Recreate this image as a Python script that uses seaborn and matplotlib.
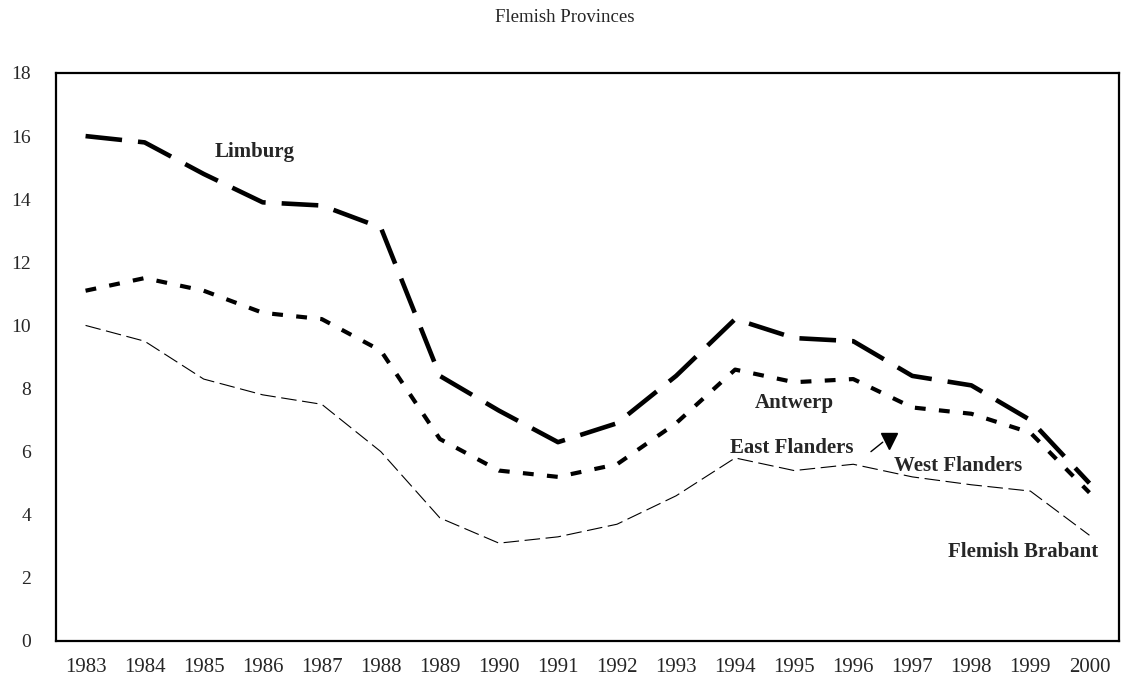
import pandas as pd
import matplotlib
matplotlib.use('Agg')
import matplotlib.pyplot as plt
import seaborn as sns
from matplotlib.ticker import MultipleLocator

# Werkloosheid per provincie (aflezing van de grafiek)
jaren = list(range(1983, 2001))
waarden = {
    'Limburg': [16.0, 15.8, 14.8, 13.9, 13.8, 13.1, 8.4, 7.3, 6.3, 6.9, 8.4, 10.2,
                9.6, 9.5, 8.4, 8.1, 7.0, 5.0],
    'Antwerp': [11.1, 11.5, 11.1, 10.4, 10.2, 9.2, 6.4, 5.4, 5.2, 5.6, 6.9, 8.6,
                8.2, 8.3, 7.4, 7.2, 6.6, 4.7],
    'Flemish Brabant': [10.0, 9.5, 8.3, 7.8, 7.5, 6.0, 3.9, 3.1, 3.3, 3.7, 4.6, 5.8,
                        5.4, 5.6, 5.2, 4.95, 4.75, 3.35],
}
df = pd.DataFrame(waarden, index=jaren).reset_index(names='Jaar')
df = df.melt(id_vars='Jaar', var_name='Provincie', value_name='Waarde')

sns.set_style('white')
plt.rcParams['font.family'] = ['Liberation Serif', 'DejaVu Serif']

fig = plt.figure(figsize=(11.23, 6.91), dpi=100)
ax = fig.add_axes([0.0499, 0.0724, 0.9465, 0.822])

sns.lineplot(data=df, x='Jaar', y='Waarde', hue='Provincie', style='Provincie',
             size='Provincie',
             palette={'Limburg': 'black', 'Antwerp': 'black', 'Flemish Brabant': 'black'},
             dashes={'Limburg': (8, 3.5), 'Antwerp': (2.6, 3.2), 'Flemish Brabant': (14, 5)},
             sizes={'Limburg': 3.3, 'Antwerp': 3.0, 'Flemish Brabant': 0.8},
             legend=False, ax=ax)

ax.set_xlim(1982.5, 2000.5)
ax.set_ylim(0, 18)
ax.set_xticks(jaren)
ax.set_xticklabels([str(j) for j in jaren], fontsize=15)
ax.xaxis.set_minor_locator(MultipleLocator(1, offset=0.5))
ax.tick_params(axis='x', which='major', length=0, pad=12)
ax.tick_params(axis='x', which='minor', direction='in', length=7, width=1.2, color='black')
ax.set_yticks(range(0, 19, 2))
ax.tick_params(axis='y', direction='out', length=5, width=1.2, color='black', pad=13,
               labelsize=14)
ax.set_xlabel('')
ax.set_ylabel('')
for s in ax.spines.values():
    s.set_color('black')
    s.set_linewidth(1.6)

# labels bij de lijnen
lbl = dict(fontsize=15, fontweight='bold', ha='center', va='center')
ax.text(1985.87, 15.5, 'Limburg', **lbl)
ax.text(1995.01, 7.54, 'Antwerp', **lbl)
ax.text(1994.96, 6.1, 'East Flanders', **lbl)
ax.text(1997.77, 5.55, 'West Flanders', **lbl)
ax.text(1998.87, 2.82, 'Flemish Brabant', **lbl)
ax.plot([1996.3, 1996.5], [6.0, 6.3], color='black', lw=1)
ax.plot([1996.6], [6.35], marker='v', color='black', markersize=11)

fig.text(0.503, 0.975, 'Flemish Provinces', fontsize=13.5, ha='center', va='center')

plt.savefig('out.png', dpi=100)
